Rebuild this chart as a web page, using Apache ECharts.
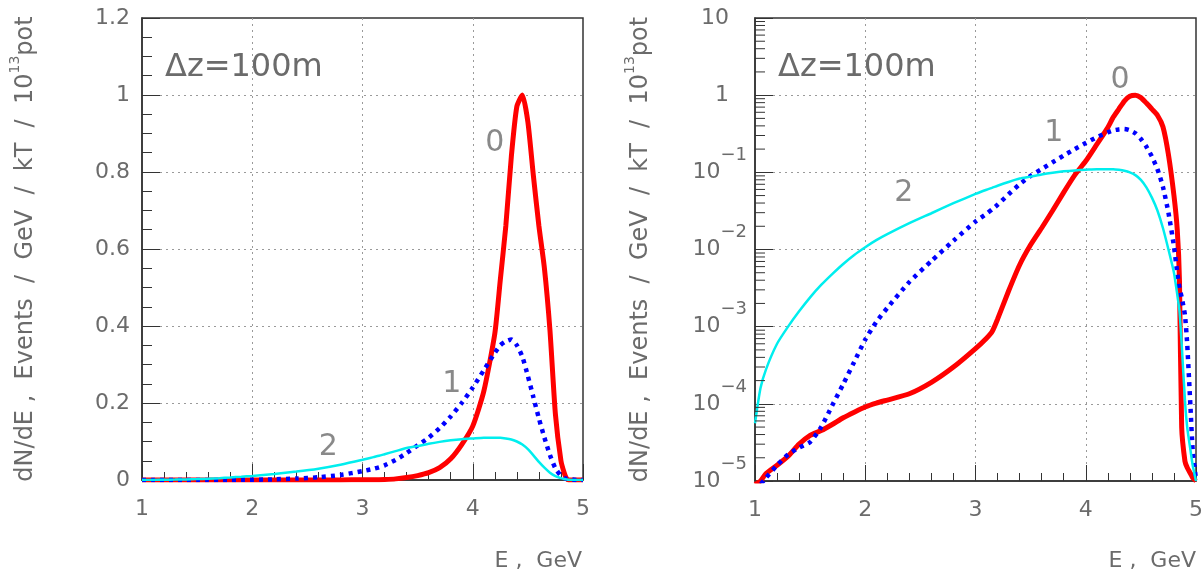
<!DOCTYPE html>
<html><head><meta charset="utf-8">
<script src="https://cdn.jsdelivr.net/npm/echarts@6/dist/echarts.min.js"></script>
<style>html,body{margin:0;padding:0;background:#fff}#c{width:1203px;height:577px}</style>
</head><body><div id="c"></div>
<script>
// ---- data ----
const energy = [1.0,1.05,1.1,1.2,1.3,1.4,1.5,1.6,1.7,1.8,1.9,2.0,2.1,2.2,2.4,2.6,2.8,3.0,3.1,3.15,3.2,3.3,3.4,3.5,3.6,3.7,3.8,3.9,4.0,4.1,4.2,4.25,4.3,4.35,4.4,4.45,4.5,4.55,4.6,4.65,4.7,4.75,4.8,4.83,4.85,4.87,4.9,4.92,4.95,4.97,5.0];
const flux0 = [9.0e-6,1.0e-5,1.25e-5,1.6e-5,2.1e-5,3.0e-5,3.9e-5,4.5e-5,5.4e-5,6.6e-5,7.8e-5,9.1e-5,1.02e-4,1.12e-4,1.35e-4,1.9e-4,3.0e-4,5.2e-4,7.1e-4,8.6e-4,1.25e-3,2.9e-3,6.3e-3,1.15e-2,1.9e-2,3.2e-2,5.5e-2,9.2e-2,0.14,0.23,0.38,0.52,0.66,0.84,0.97,1.0,0.93,0.79,0.66,0.55,0.39,0.17,0.05,0.018,4.0e-3,5.0e-5,1.8e-5,1.5e-5,1.25e-5,1.1e-5,1.0e-5];
const flux1 = [7.5e-6,9.0e-6,1.1e-5,1.6e-5,2.2e-5,2.7e-5,3.2e-5,5.0e-5,9.5e-5,1.8e-4,3.5e-4,6.8e-4,1.15e-3,1.75e-3,3.8e-3,7.1e-3,1.3e-2,2.3e-2,2.9e-2,3.3e-2,3.8e-2,5.2e-2,7.0e-2,9.0e-2,0.11,0.135,0.165,0.2,0.24,0.285,0.33,0.35,0.36,0.365,0.35,0.32,0.27,0.215,0.16,0.11,0.065,0.03,0.011,5.0e-3,3.2e-3,2.4e-3,1.4e-3,6.0e-4,9.0e-5,2.5e-5,1.05e-5];
const flux2 = [5.6e-5,1.6e-4,2.8e-4,6.0e-4,1.0e-3,1.58e-3,2.4e-3,3.47e-3,4.8e-3,6.5e-3,8.5e-3,1.07e-2,1.32e-2,1.58e-2,2.19e-2,2.95e-2,3.98e-2,5.25e-2,5.95e-2,6.3e-2,6.7e-2,7.5e-2,8.3e-2,8.8e-2,9.4e-2,9.9e-2,0.103,0.106,0.108,0.11,0.11,0.11,0.108,0.105,0.1,0.092,0.08,0.064,0.047,0.032,0.019,0.01,5.0e-3,2.6e-3,1.6e-3,6.0e-4,1.1e-4,5.0e-5,2.5e-5,1.6e-5,1.0e-5];
const curveLabelsLin = [[4.20,0.874,'0'],[3.81,0.249,'1'],[2.69,0.086,'2']];
const curveLabelsLog = [[4.31,1.58,'0'],[3.71,0.32,'1'],[2.35,0.053,'2']];
const logDecades = [-5,-4,-3,-2,-1,0];
const logMinorMultipliers = [2,3,4,5,6,7,8,9];
const panelTitle = '\u0394z=100m';
const xTitle = 'E ,  GeV';

// ---- build ----
const FONT = 'DejaVu Sans';
const TXT = '#6b6b6b';
const AX = '#333';
const pairs = arr => energy.map((e,i)=>[e, arr[i]]);
const logMinorValues = [];
logDecades.forEach(d => logMinorMultipliers.forEach(m => logMinorValues.push(m*Math.pow(10,d))));

const splitLine = {show:true, showMinLine:false, showMaxLine:false, lineStyle:{color:'#9a9a9a', type:[2,4], width:1}};
const yName = '{a|dN/dE ,  Events  /  GeV  /  kT  /  10}{s|13}{a|pot}';
const yNameStyle = {color:TXT, fontFamily:FONT, fontSize:24,
  rich:{a:{fontSize:24, fontFamily:FONT, color:TXT, lineHeight:36, verticalAlign:'middle'},
        s:{fontSize:14, fontFamily:FONT, color:TXT, lineHeight:16, verticalAlign:'top'}}};

function xAxis(gi){
  return {type:'value', gridIndex:gi, min:1, max:5, interval:1,
    axisLine:{show:true, onZero:false, lineStyle:{color:AX, width:1.5}},
    axisTick:{show:true, inside:true, length:16, lineStyle:{color:AX, width:1}},
    minorTick:{show:true, splitNumber:5, length:8, lineStyle:{color:AX, width:1}},
    axisLabel:{color:TXT, fontFamily:FONT, fontSize:22, margin:18},
    splitLine:splitLine};
}
function lines(xi, yi){
  return [
    {type:'line', xAxisIndex:xi, yAxisIndex:yi, data:pairs(flux0), symbol:'none', smooth:0.2,
      lineStyle:{color:'#ff0000', width:5}, z:2, silent:true},
    {type:'line', xAxisIndex:xi, yAxisIndex:yi, data:pairs(flux1), symbol:'none', smooth:0.2,
      lineStyle:{color:'#0000ff', width:4.5, type:[4,5], cap:'butt'}, z:3, silent:true},
    {type:'line', xAxisIndex:xi, yAxisIndex:yi, data:pairs(flux2), symbol:'none', smooth:0.2,
      lineStyle:{color:'#00eeee', width:2.5}, z:4, silent:true}
  ];
}
function labels(xi, yi, arr){
  return {type:'scatter', xAxisIndex:xi, yAxisIndex:yi, silent:true, symbolSize:1,
    itemStyle:{color:'rgba(0,0,0,0)'},
    data:arr.map(d=>({value:[d[0],d[1]], name:d[2]})),
    label:{show:true, position:'inside', formatter:'{b}', fontSize:30, fontFamily:FONT, color:TXT}, z:5};
}

const option = {
  animation:false,
  grid:[
    {left:142, top:18, width:441, height:462, show:true, borderColor:AX, borderWidth:1.5, outerBoundsMode:'none'},
    {left:755, top:18, width:441, height:463, show:true, borderColor:AX, borderWidth:1.5, outerBoundsMode:'none'}
  ],
  xAxis:[xAxis(0), xAxis(1)],
  yAxis:[
    {type:'value', gridIndex:0, min:0, max:1.2, interval:0.2,
      axisLine:{show:true, onZero:false, lineStyle:{color:AX, width:1.5}},
      axisTick:{show:true, inside:true, length:18, lineStyle:{color:AX, width:1}},
      minorTick:{show:true, splitNumber:4, length:10, lineStyle:{color:AX, width:1}},
      axisLabel:{color:TXT, fontFamily:FONT, fontSize:22, margin:12},
      splitLine:splitLine,
      name:yName, nameLocation:'middle', nameGap:98, nameRotate:90, nameTextStyle:yNameStyle},
    {type:'log', gridIndex:1, logBase:10, min:1e-5, max:10, splitNumber:6,
      axisLine:{show:true, onZero:false, lineStyle:{color:AX, width:1.5}},
      axisTick:{show:true, inside:true, length:18, lineStyle:{color:AX, width:1}},
      minorTick:{show:false},
      axisLabel:{color:TXT, fontFamily:FONT, fontSize:22, margin:8,
        formatter:function(v){
          const e = Math.round(Math.log10(v));
          if (e === 1) return '{p|10}';
          if (e === 0) return '{p|1}';
          return '{b|10}{s|\u2212' + (-e) + '}';
        },
        rich:{
          p:{fontSize:22, fontFamily:FONT, color:TXT, padding:[0,18,0,0]},
          b:{fontSize:22, fontFamily:FONT, color:TXT, lineHeight:52, verticalAlign:'middle'},
          s:{fontSize:18, fontFamily:FONT, color:TXT, lineHeight:20, verticalAlign:'top'}
        }},
      splitLine:splitLine,
      name:yName, nameLocation:'middle', nameGap:96, nameRotate:90, nameTextStyle:yNameStyle}
  ],
  graphic:[
    {type:'text', x:165, y:68, silent:true, style:{text:panelTitle, fontSize:32, fontFamily:FONT, fill:TXT, align:'left', verticalAlign:'middle'}},
    {type:'text', x:778, y:68, silent:true, style:{text:panelTitle, fontSize:32, fontFamily:FONT, fill:TXT, align:'left', verticalAlign:'middle'}},
    {type:'text', x:582, y:561, silent:true, style:{text:xTitle, fontSize:22, fontFamily:FONT, fill:TXT, align:'right', verticalAlign:'middle'}},
    {type:'text', x:1196, y:561, silent:true, style:{text:xTitle, fontSize:22, fontFamily:FONT, fill:TXT, align:'right', verticalAlign:'middle'}}
  ],
  series:[
    ...lines(0,0),
    labels(0,0,curveLabelsLin),
    ...lines(1,1),
    labels(1,1,curveLabelsLog),
    {type:'custom', xAxisIndex:1, yAxisIndex:1, silent:true, z:6,
      data:logMinorValues.map(v=>[1,v]),
      renderItem:function(params, api){
        const p = api.coord([api.value(0), api.value(1)]);
        return {type:'line', shape:{x1:p[0], y1:p[1], x2:p[0]+10, y2:p[1]}, style:{stroke:AX, lineWidth:1}};
      }}
  ]
};
const chart = echarts.init(document.getElementById('c'), null, {renderer:'canvas'});
chart.setOption(option);
</script></body></html>
